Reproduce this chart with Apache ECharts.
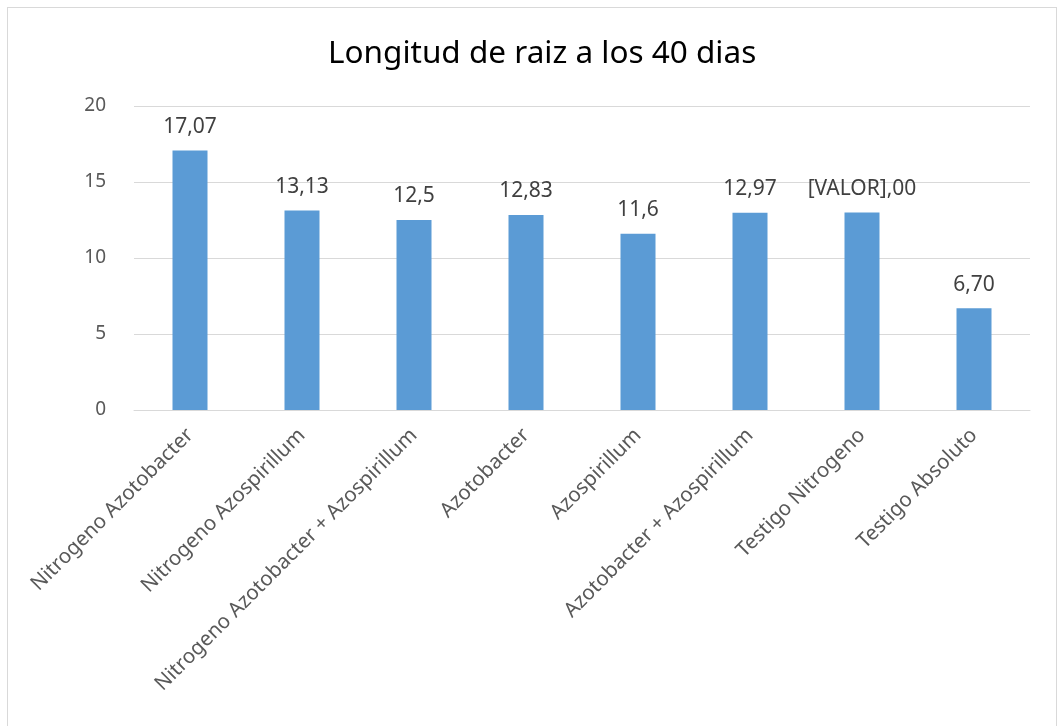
<!DOCTYPE html>
<html>
<head>
<meta charset="utf-8">
<script src="https://cdn.jsdelivr.net/npm/echarts@6/dist/echarts.min.js"></script>
<style>
  html, body { margin: 0; padding: 0; background: #fff; }
  #frame { position: absolute; left: 7px; top: 7px; width: 1050px; height: 730px; border: 1px solid #d9d9d9; box-sizing: border-box; }
  #chart { position: absolute; left: 0; top: 0; width: 1061px; height: 726px; }
</style>
</head>
<body>
<div id="frame"></div>
<div id="chart"></div>
<script>
// categorias del eje x
const categories = ['Nitrogeno Azotobacter', 'Nitrogeno Azospirillum', 'Nitrogeno Azotobacter + Azospirillum',
  'Azotobacter', 'Azospirillum', 'Azotobacter + Azospirillum', 'Testigo Nitrogeno', 'Testigo Absoluto'];
// longitud de raiz (cm)
const values = [17.07, 13.13, 12.5, 12.83, 11.6, 12.97, 13, 6.70];
// etiquetas tal como aparecen en el grafico
const dataLabels = ['17,07', '13,13', '12,5', '12,83', '11,6', '12,97', '[VALOR],00', '6,70'];
const yTicks = [0, 5, 10, 15, 20];

const font = 'Noto Sans';
var chart = echarts.init(document.getElementById('chart'));
chart.setOption({
  animation: false,
  title: {
    text: 'Longitud de raiz a los 40 dias',
    left: 323,
    top: 33,
    textStyle: { fontFamily: font, fontSize: 31.5, fontWeight: 'normal', color: '#000' }
  },
  grid: { left: 134, right: 31, top: 106, bottom: 316, containLabel: false },
  xAxis: {
    type: 'category',
    data: categories,
    axisLine: { lineStyle: { color: '#d9d9d9', width: 1 } },
    axisTick: { show: false },
    axisLabel: { rotate: 45, interval: 0, margin: 22, fontFamily: font, fontSize: 20.5, color: '#595959' }
  },
  yAxis: {
    type: 'value',
    min: yTicks[0],
    max: yTicks[yTicks.length - 1],
    interval: 5,
    axisLine: { show: false },
    axisTick: { show: false },
    splitLine: { lineStyle: { color: '#d9d9d9', width: 1 } },
    axisLabel: { margin: 28, fontFamily: font, fontSize: 19, color: '#595959' }
  },
  series: [{
    type: 'bar',
    data: values,
    barWidth: 35,
    itemStyle: { color: '#5b9bd5' },
    label: {
      show: true,
      position: 'top',
      distance: 13,
      fontFamily: font,
      fontSize: 21,
      color: '#404040',
      formatter: (p) => dataLabels[p.dataIndex]
    }
  }]
});
</script>
</body>
</html>
